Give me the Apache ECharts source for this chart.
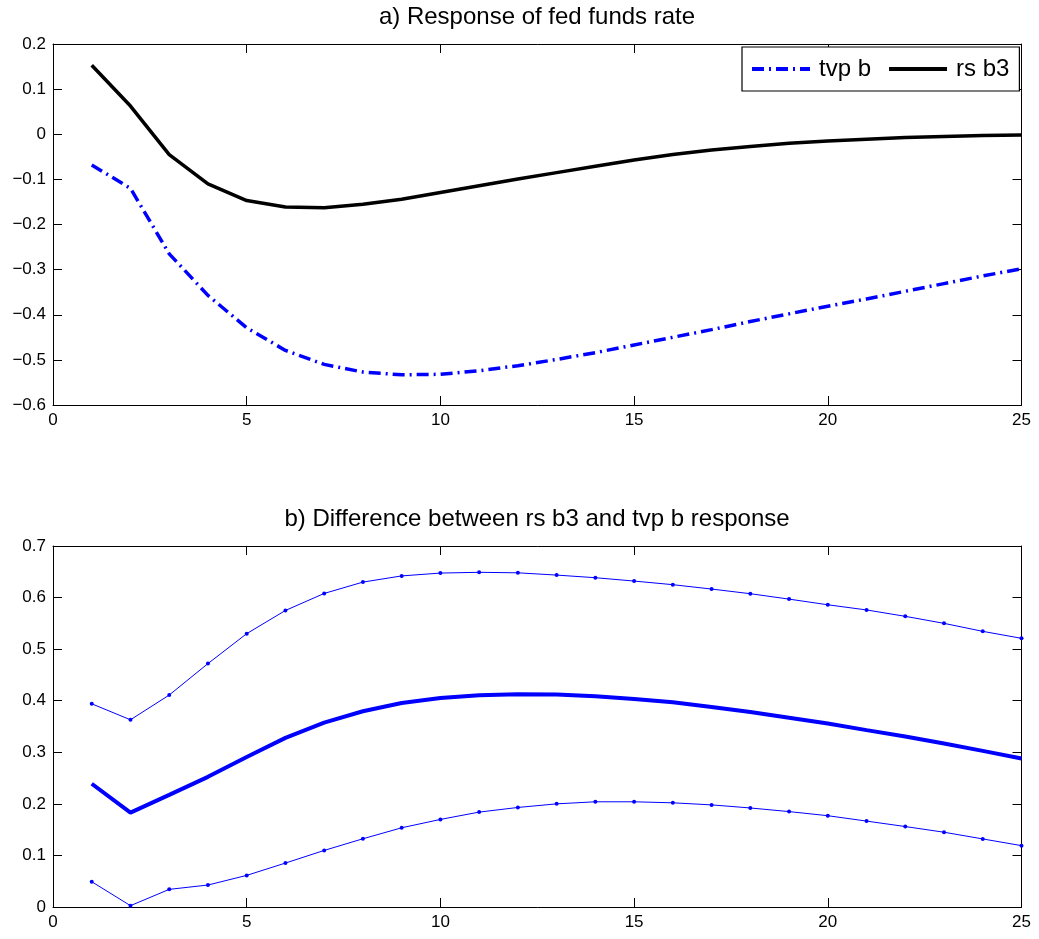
<!DOCTYPE html>
<html>
<head>
<meta charset="utf-8">
<script src="https://cdn.jsdelivr.net/npm/echarts@6/dist/echarts.min.js"></script>
<style>html,body{margin:0;padding:0;background:#fff;}#chart{width:1039px;height:939px;}</style>
</head>
<body>
<div id="chart"></div>
<script>
const horizons = [1,2,3,4,5,6,7,8,9,10,11,12,13,14,15,16,17,18,19,20,21,22,23,24,25];
const tvpB = [-0.068,-0.120,-0.265,-0.357,-0.429,-0.479,-0.510,-0.527,-0.533,-0.532,-0.524,-0.513,-0.499,-0.484,-0.467,-0.450,-0.433,-0.415,-0.398,-0.381,-0.365,-0.348,-0.331,-0.314,-0.298];
const rsB3 = [0.153,0.0625,-0.045,-0.110,-0.147,-0.161,-0.163,-0.155,-0.144,-0.129,-0.114,-0.099,-0.085,-0.071,-0.057,-0.045,-0.035,-0.027,-0.020,-0.015,-0.011,-0.007,-0.005,-0.003,-0.0015];
const diffUpper = [0.394,0.363,0.411,0.472,0.530,0.575,0.608,0.630,0.642,0.6475,0.649,0.648,0.6436,0.6385,0.632,0.625,0.6165,0.6075,0.597,0.586,0.576,0.5636,0.550,0.5345,0.521];
const diffMid = [0.239,0.183,0.2175,0.2524,0.291,0.328,0.3576,0.3796,0.3957,0.4054,0.4106,0.4125,0.412,0.4086,0.4035,0.397,0.388,0.378,0.367,0.3557,0.343,0.3305,0.317,0.3028,0.288];
const diffLower = [0.049,0.0026,0.0342,0.0426,0.0613,0.0852,0.1097,0.1323,0.1536,0.1698,0.184,0.193,0.200,0.204,0.204,0.202,0.198,0.192,0.185,0.177,0.1666,0.156,0.145,0.132,0.119];
const titleA = 'a) Response of fed funds rate';
const titleB = 'b) Difference between rs b3 and tvp b response';

const FONT = 'Liberation Sans, Arial, Helvetica, sans-serif';
const pairs = arr => horizons.map((h, i) => [h, arr[i]]);
const fmt = v => {
  const r = Math.round(v * 10) / 10;
  return (r === 0 ? '0' : String(r)).replace('-', '\u2212');
};
const lbl = {color: '#000', fontFamily: FONT, fontSize: 17};
function xAx(grid, pos, show) {
  return {
    type: 'value', gridIndex: grid, position: pos, min: 0, max: 25, interval: 5,
    axisLine: {show: true, onZero: false, lineStyle: {color: '#000', width: 1}},
    axisTick: {show: true, inside: true, length: 9, lineStyle: {color: '#000'}},
    axisLabel: Object.assign({show: show, margin: 7}, lbl),
    splitLine: {show: false}
  };
}
function yAx(grid, pos, show, mn, mx) {
  return {
    type: 'value', gridIndex: grid, position: pos, min: mn, max: mx, interval: 0.1,
    axisLine: {show: true, onZero: false, lineStyle: {color: '#000', width: 1}},
    axisTick: {show: true, inside: true, length: 9, lineStyle: {color: '#000'}},
    axisLabel: Object.assign({show: show, margin: 7, formatter: fmt}, lbl),
    splitLine: {show: false}
  };
}
const titleStyle = {fontFamily: FONT, fontSize: 24, fontWeight: 'normal', color: '#000'};
const chart = echarts.init(document.getElementById('chart'), null, {renderer: 'canvas'});
chart.setOption({
  backgroundColor: '#fff',
  animation: false,
  title: [
    {text: titleA, left: 537, top: 5, padding: 0, textAlign: 'center', textStyle: titleStyle},
    {text: titleB, left: 537, top: 507, padding: 0, textAlign: 'center', textStyle: titleStyle}
  ],
  grid: [
    {left: 53, top: 44, width: 968.5, height: 361},
    {left: 53, top: 546, width: 968.5, height: 361}
  ],
  xAxis: [xAx(0, 'bottom', true), xAx(0, 'top', false), xAx(1, 'bottom', true), xAx(1, 'top', false)],
  yAxis: [yAx(0, 'left', true, -0.6, 0.2), yAx(0, 'right', false, -0.6, 0.2), yAx(1, 'left', true, 0, 0.7), yAx(1, 'right', false, 0, 0.7)],
  legend: {
    data: ['tvp b', 'rs b3'],
    left: 742, top: 47,
    orient: 'horizontal',
    itemWidth: 58, itemHeight: 24, itemGap: 16,
    padding: [10, 10, 10, 8],
    borderColor: '#000', borderWidth: 1.2, backgroundColor: '#fff', borderRadius: 0,
    itemStyle: {opacity: 0},
    lineStyle: {width: 4},
    textStyle: {fontFamily: FONT, fontSize: 24, color: '#000', padding: [0, 0, 0, 4]}
  },
  series: [
    {name: 'tvp b', type: 'line', xAxisIndex: 0, yAxisIndex: 0, data: pairs(tvpB), symbol: 'none', smooth: false,
     lineStyle: {color: '#0000ff', width: 3.5, type: [12, 5, 2, 5]}, itemStyle: {color: '#0000ff'}},
    {name: 'rs b3', type: 'line', xAxisIndex: 0, yAxisIndex: 0, data: pairs(rsB3), symbol: 'none',
     lineStyle: {color: '#000', width: 3.5}, itemStyle: {color: '#000'}},
    {name: 'upper', type: 'line', xAxisIndex: 2, yAxisIndex: 2, data: pairs(diffUpper), symbol: 'circle', symbolSize: 4,
     lineStyle: {color: '#0000ff', width: 1}, itemStyle: {color: '#0000ff'}},
    {name: 'mid', type: 'line', xAxisIndex: 2, yAxisIndex: 2, data: pairs(diffMid), symbol: 'none',
     lineStyle: {color: '#0000ff', width: 4}, itemStyle: {color: '#0000ff'}},
    {name: 'lower', type: 'line', xAxisIndex: 2, yAxisIndex: 2, data: pairs(diffLower), symbol: 'circle', symbolSize: 4,
     lineStyle: {color: '#0000ff', width: 1}, itemStyle: {color: '#0000ff'}}
  ]
});
</script>
</body>
</html>
